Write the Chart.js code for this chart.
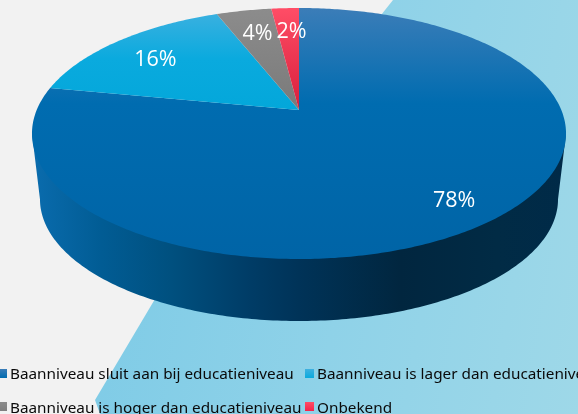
<!DOCTYPE html>
<html><head><meta charset="utf-8">
<script src="https://cdn.jsdelivr.net/npm/chart.js@4"></script>
<style>
html,body{margin:0;padding:0;width:578px;height:414px;overflow:hidden;background:#f2f2f2}
#stage{position:relative;width:578px;height:414px;overflow:hidden;font-family:"Noto Sans",sans-serif}
#wash{position:absolute;inset:0;background:linear-gradient(100deg,#7ccae6 15%,#8fd2e8 60%,#9ed8e8 100%);
clip-path:polygon(393px 0,155px 299px,95px 400px,100px 414px,578px 414px,578px 0)}
canvas{position:absolute;left:0;top:0}
.lg{position:absolute;white-space:nowrap;font-size:15.3px;line-height:20px;color:#0a0a0a}
.sw{position:absolute;width:9px;height:9px}
</style></head>
<body><div id="stage"><div id="wash"></div><canvas id="c" width="578" height="414"></canvas></div>
<script>
const categories = ["Baanniveau sluit aan bij educatieniveau","Baanniveau is lager dan educatieniveau","Baanniveau is hoger dan educatieniveau","Onbekend"];
const values = [78,16,4,2];
const colors = ["#006cb0","#0aaade","#808080","#f4254a"];
const topColors = ["#3b7db8","#3fb1e0","#8c8c8c","#ff4d66"];
const lowColors = ["#0064a6","#03a7da","#7a7a7a","#d71f3c"];
const swatchX = [-2,305,-2,305];
const swatchY = [369,369,402,402];
const textX = [10,317,10,317];
const textY = [363,363,397,397];

// perspective view of the pie's disc
const view = {cx:299, cy:110, A:262.3, B:121.1, p:0.1873, shrink:0.97, near:259, nearLow:321};
function project(angle, r){
  const u = r*Math.sin(angle), v = r*Math.cos(angle), w = 1 + view.p*v;
  return [view.cx + view.A*u/w, view.cy - view.B*v/w];
}
function projectLow(angle){
  const [x,y] = project(angle,1);
  return [view.cx + view.shrink*(x-view.cx), view.nearLow - view.shrink*(view.near-y)];
}
const extreme = Math.PI/2 + Math.asin(view.p);  // screen-widest point of the rim

const pie3d = {
  id:'pie3d',
  beforeDatasetDraw(chart){
    const ctx = chart.ctx, arcs = chart.getDatasetMeta(0).data;
    ctx.save();
    // side wall
    const side = ctx.createLinearGradient(32,0,566,0);
    [[0,"#0a6cae"],[0.13,"#015c94"],[0.26,"#00507f"],[0.41,"#003c66"],[0.5,"#003358"],[0.69,"#01263f"],[0.87,"#012b45"],[1,"#002a48"]]
      .forEach(s=>side.addColorStop(s[0],s[1]));
    ctx.beginPath();
    let pt = project(extreme,1); ctx.moveTo(pt[0],pt[1]);
    for(let i=0;i<=200;i++){
      const a = extreme + (2*Math.PI-2*extreme)*i/200;
      pt = projectLow(a); ctx.lineTo(pt[0],pt[1]);
    }
    pt = project(2*Math.PI-extreme,1); ctx.lineTo(pt[0],pt[1]);
    ctx.closePath(); ctx.fillStyle = side; ctx.fill();
    // top face, from the arcs Chart.js computed
    arcs.forEach((arc,i)=>{
      const s = arc.startAngle+Math.PI/2, e = arc.endAngle+Math.PI/2;
      const g = ctx.createLinearGradient(0,8,0,i===0?259:110);
      g.addColorStop(0,topColors[i]);
      if(i===0){g.addColorStop(0.38,colors[0]);}
      else if(i===1){g.addColorStop(0.5,colors[1]);}
      g.addColorStop(1,lowColors[i]);
      ctx.beginPath(); ctx.moveTo(view.cx,view.cy);
      const n = Math.max(8,Math.ceil((e-s)*80));
      for(let k=0;k<=n;k++){ const q = project(s+(e-s)*k/n,1); ctx.lineTo(q[0],q[1]); }
      ctx.closePath(); ctx.fillStyle = g; ctx.fill();
    });
    // value labels
    ctx.fillStyle = "#fff"; ctx.textAlign = "center"; ctx.textBaseline = "middle";
    ctx.font = '21.5px "Open Sans"';
    arcs.forEach((arc,i)=>{
      const mid = (arc.startAngle+arc.endAngle)/2+Math.PI/2, q = project(mid,0.8);
      ctx.fillText(values[i]+"%", q[0]+4, q[1]+6);
    });
    ctx.restore();
    return false;
  }
};

new Chart(document.getElementById('c'),{
  type:'pie',
  data:{labels:categories,datasets:[{data:values,backgroundColor:colors,borderWidth:0}]},
  options:{responsive:false,animation:false,devicePixelRatio:1,
    plugins:{legend:{display:false},tooltip:{enabled:false}}},
  plugins:[pie3d]
});

const stage = document.getElementById('stage');
categories.forEach((name,i)=>{
  const sw = document.createElement('div'); sw.className='sw';
  sw.style.left = swatchX[i]+'px'; sw.style.top = swatchY[i]+'px';
  sw.style.background = `linear-gradient(${topColors[i]},${colors[i]})`;
  stage.appendChild(sw);
  const t = document.createElement('div'); t.className='lg'; t.textContent = name;
  t.style.left = textX[i]+'px'; t.style.top = textY[i]+'px';
  stage.appendChild(t);
});
</script></body></html>
